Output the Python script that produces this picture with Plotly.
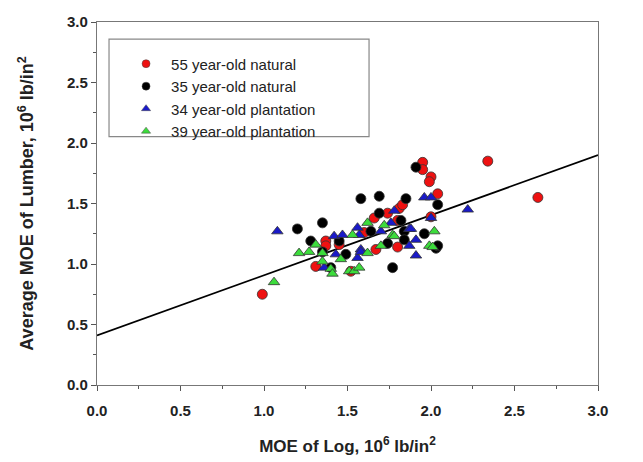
import plotly.graph_objects as go

# ---- data ----
red_x = [0.99, 1.31, 1.37, 1.37, 1.45, 1.52, 1.60, 1.66, 1.67, 1.74, 1.80, 1.81, 1.80, 1.83, 1.95, 1.95, 2.00, 1.99, 2.04, 2.00, 2.34, 2.64]
red_y = [0.75, 0.98, 1.19, 1.15, 1.16, 0.94, 1.26, 1.38, 1.12, 1.42, 1.14, 1.46, 1.36, 1.49, 1.84, 1.78, 1.72, 1.68, 1.58, 1.39, 1.85, 1.55]

black_x = [1.20, 1.28, 1.35, 1.35, 1.40, 1.45, 1.49, 1.58, 1.64, 1.69, 1.69, 1.74, 1.77, 1.82, 1.84, 1.84, 1.85, 1.91, 1.96, 2.03, 2.04, 2.04]
black_y = [1.29, 1.19, 1.34, 1.10, 0.97, 1.19, 1.08, 1.54, 1.27, 1.56, 1.42, 1.17, 0.97, 1.36, 1.27, 1.20, 1.54, 1.80, 1.25, 1.13, 1.15, 1.49]

blue_x = [1.08, 1.36, 1.42, 1.43, 1.47, 1.56, 1.56, 1.57, 1.58, 1.58, 1.70, 1.76, 1.78, 1.87, 1.87, 1.88, 1.91, 1.91, 1.96, 2.00, 2.00, 2.22]
blue_y = [1.27, 0.97, 1.23, 1.08, 1.24, 1.05, 1.30, 1.24, 1.12, 1.10, 1.27, 1.34, 1.44, 1.15, 1.29, 1.29, 1.20, 1.07, 1.55, 1.55, 1.38, 1.45]

green_x = [1.06, 1.21, 1.27, 1.31, 1.35, 1.35, 1.40, 1.41, 1.46, 1.51, 1.53, 1.54, 1.57, 1.62, 1.62, 1.70, 1.72, 1.77, 1.78, 1.99, 2.02, 2.01]
green_y = [0.85, 1.09, 1.10, 1.16, 1.09, 1.02, 0.96, 0.92, 1.04, 0.94, 1.24, 0.94, 0.97, 1.34, 1.09, 1.15, 1.32, 1.24, 1.23, 1.15, 1.27, 1.14]

series_names = ["55 year-old natural", "35 year-old natural",
                "34 year-old plantation", "39 year-old plantation"]

fit_intercept = 0.41
fit_slope = 0.497
fit_x = [0.0, 3.0]

tick_vals = [0.0, 0.5, 1.0, 1.5, 2.0, 2.5, 3.0]
tick_text = ["0.0", "0.5", "1.0", "1.5", "2.0", "2.5", "3.0"]

# ---- figure ----
FONT = "Liberation Sans, Arial, sans-serif"
outline = dict(color="#333333", width=0.8)

fig = go.Figure()
fig.add_trace(go.Scatter(
    x=fit_x, y=[fit_intercept + fit_slope * v for v in fit_x],
    mode="lines", line=dict(color="black", width=1.8),
    showlegend=False, hoverinfo="skip"))

specs = [
    (red_x, red_y, "#EE1111", "circle"),
    (black_x, black_y, "#000000", "circle"),
    (blue_x, blue_y, "#1A1AC8", "triangle-up"),
    (green_x, green_y, "#3CDC3C", "triangle-up"),
]
for (xs, ys, col, sym), name in zip(specs, series_names):
    fig.add_trace(go.Scatter(
        x=xs, y=ys, mode="markers", name=name, showlegend=False,
        marker=dict(color=col, symbol=sym, size=10, line=outline)))
# legend entries with the smaller legend symbols of the reference
for (xs, ys, col, sym), name in zip(specs, series_names):
    fig.add_trace(go.Scatter(
        x=[None], y=[None], mode="markers", name=name,
        marker=dict(color=col, symbol=sym, size=8, line=dict(color="#444444", width=0.5))))

axis_common = dict(
    range=[0, 3], tickvals=tick_vals, ticktext=tick_text,
    ticks="outside", ticklen=5, tickwidth=1, tickcolor="#555555",
    showline=True, linecolor="#777777", linewidth=1.2, mirror=True,
    showgrid=False, zeroline=False, ticklabeloverflow="allow",
    tickfont=dict(family=FONT, size=15, color="#222222", weight="bold"),
    minor=dict(ticks="outside", ticklen=3, tickwidth=1, tickcolor="#555555", dtick=0.25),
)

fig.update_layout(
    width=643, height=462,
    margin=dict(l=89, r=53, t=5, b=85),
    paper_bgcolor="white", plot_bgcolor="white",
    font=dict(family=FONT, color="#222222"),
    xaxis=dict(**axis_common, ticklabelstandoff=7,
               title=dict(text="MOE of Log, 10<sup>6</sup> lb/in<sup>2</sup>",
                          font=dict(family=FONT, size=17, weight="bold"), standoff=22)),
    yaxis=dict(**axis_common,
               title=dict(text="Average MOE of Lumber, 10<sup>6</sup> lb/in<sup>2</sup>",
                          font=dict(family=FONT, size=18, weight="bold"), standoff=28)),
    legend=dict(x=0.048, y=0.93, xanchor="left", yanchor="top",
                bgcolor="rgba(0,0,0,0)", borderwidth=0,
                font=dict(family=FONT, size=15, color="#222222"),
                itemsizing="trace", itemwidth=40, tracegroupgap=0),
    shapes=[dict(type="rect", xref="paper", yref="paper",
                 x0=0.024, x1=0.543, y0=0.684, y1=0.953,
                 line=dict(color="#888888", width=1.2), fillcolor="rgba(0,0,0,0)",
                 layer="below")],
    showlegend=True,
)

fig.write_html("out.html")
